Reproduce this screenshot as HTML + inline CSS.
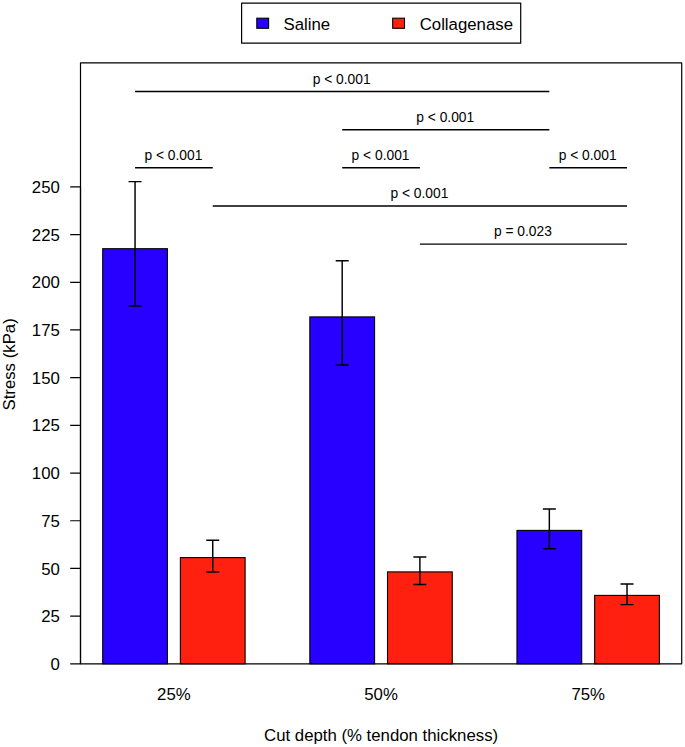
<!DOCTYPE html><html><head><meta charset="utf-8"><style>html,body{margin:0;padding:0;background:#fff;width:685px;height:747px;overflow:hidden}svg{display:block}text{font-family:"Liberation Sans",sans-serif;fill:#000}</style></head><body>
<svg width="685" height="747" viewBox="0 0 685 747">
<rect width="685" height="747" fill="#fff"/>
<rect x="102.70" y="248.70" width="64.73" height="415.10" fill="#2800FF" stroke="#000" stroke-width="1.1"/>
<rect x="180.38" y="557.60" width="64.73" height="106.20" fill="#FF2010" stroke="#000" stroke-width="1.1"/>
<rect x="309.84" y="316.90" width="64.73" height="346.90" fill="#2800FF" stroke="#000" stroke-width="1.1"/>
<rect x="387.51" y="571.90" width="64.73" height="91.90" fill="#FF2010" stroke="#000" stroke-width="1.1"/>
<rect x="516.97" y="530.40" width="64.73" height="133.40" fill="#2800FF" stroke="#000" stroke-width="1.1"/>
<rect x="594.65" y="595.40" width="64.73" height="68.40" fill="#FF2010" stroke="#000" stroke-width="1.1"/>
<path d="M135.06 181.60V305.90M128.56 181.60H141.56M128.56 305.90H141.56" stroke="#000" stroke-width="1.45" fill="none"/>
<path d="M212.74 540.20V572.00M206.24 540.20H219.24M206.24 572.00H219.24" stroke="#000" stroke-width="1.45" fill="none"/>
<path d="M342.20 260.80V364.90M335.70 260.80H348.70M335.70 364.90H348.70" stroke="#000" stroke-width="1.45" fill="none"/>
<path d="M419.88 557.05V584.40M413.38 557.05H426.38M413.38 584.40H426.38" stroke="#000" stroke-width="1.45" fill="none"/>
<path d="M549.34 508.90V548.70M542.84 508.90H555.84M542.84 548.70H555.84" stroke="#000" stroke-width="1.45" fill="none"/>
<path d="M627.01 584.00V604.60M620.51 584.00H633.51M620.51 604.60H633.51" stroke="#000" stroke-width="1.45" fill="none"/>
<path d="M80.5 663.8V62.9H681.7V663.8Z" fill="none" stroke="#000" stroke-width="1.2" stroke-linejoin="round"/>
<path d="M80.5 663.80V186.90M70.20 663.80H80.5M70.20 616.11H80.5M70.20 568.42H80.5M70.20 520.73H80.5M70.20 473.04H80.5M70.20 425.35H80.5M70.20 377.66H80.5M70.20 329.97H80.5M70.20 282.28H80.5M70.20 234.59H80.5M70.20 186.90H80.5" stroke="#000" stroke-width="1.2" fill="none"/>
<text x="59.8" y="669.90" font-size="16.8" text-anchor="end">0</text>
<text x="59.8" y="622.21" font-size="16.8" text-anchor="end">25</text>
<text x="59.8" y="574.52" font-size="16.8" text-anchor="end">50</text>
<text x="59.8" y="526.83" font-size="16.8" text-anchor="end">75</text>
<text x="59.8" y="479.14" font-size="16.8" text-anchor="end">100</text>
<text x="59.8" y="431.45" font-size="16.8" text-anchor="end">125</text>
<text x="59.8" y="383.76" font-size="16.8" text-anchor="end">150</text>
<text x="59.8" y="336.07" font-size="16.8" text-anchor="end">175</text>
<text x="59.8" y="288.38" font-size="16.8" text-anchor="end">200</text>
<text x="59.8" y="240.69" font-size="16.8" text-anchor="end">225</text>
<text x="59.8" y="193.00" font-size="16.8" text-anchor="end">250</text>
<text x="173.90" y="700.1" font-size="16.8" text-anchor="middle">25%</text>
<text x="381.04" y="700.1" font-size="16.8" text-anchor="middle">50%</text>
<text x="588.18" y="700.1" font-size="16.8" text-anchor="middle">75%</text>
<text x="381.1" y="741.3" font-size="16.8" text-anchor="middle">Cut depth (% tendon thickness)</text>
<text transform="translate(15.3 364.4) rotate(-90)" font-size="16.8" text-anchor="middle">Stress (kPa)</text>
<path d="M135.06 91.52H549.34" stroke="#000" stroke-width="1.45"/>
<text x="341.70" y="83.62" font-size="13.8" text-anchor="middle">p &lt; 0.001</text>
<path d="M342.20 129.67H549.34" stroke="#000" stroke-width="1.45"/>
<text x="445.27" y="121.77" font-size="13.8" text-anchor="middle">p &lt; 0.001</text>
<path d="M135.06 167.82H212.74" stroke="#000" stroke-width="1.45"/>
<text x="173.40" y="159.92" font-size="13.8" text-anchor="middle">p &lt; 0.001</text>
<path d="M342.20 167.82H419.88" stroke="#000" stroke-width="1.45"/>
<text x="380.54" y="159.92" font-size="13.8" text-anchor="middle">p &lt; 0.001</text>
<path d="M549.34 167.82H627.01" stroke="#000" stroke-width="1.45"/>
<text x="587.68" y="159.92" font-size="13.8" text-anchor="middle">p &lt; 0.001</text>
<path d="M212.74 205.98H627.01" stroke="#000" stroke-width="1.45"/>
<text x="419.38" y="198.08" font-size="13.8" text-anchor="middle">p &lt; 0.001</text>
<path d="M419.88 244.13H627.01" stroke="#000" stroke-width="1.45"/>
<text x="522.95" y="236.23" font-size="13.8" text-anchor="middle">p = 0.023</text>
<rect x="241.6" y="3.1" width="279.1" height="40.1" fill="#fff" stroke="#000" stroke-width="1.2" stroke-linejoin="round"/>
<rect x="256.8" y="18.2" width="11.8" height="10.1" fill="#2800FF" stroke="#000" stroke-width="1.1"/>
<rect x="392.7" y="18.2" width="11.8" height="10.1" fill="#FF2010" stroke="#000" stroke-width="1.1"/>
<text x="283.5" y="29.7" font-size="16.8">Saline</text>
<text x="419.7" y="29.7" font-size="16.8">Collagenase</text>
</svg></body></html>
